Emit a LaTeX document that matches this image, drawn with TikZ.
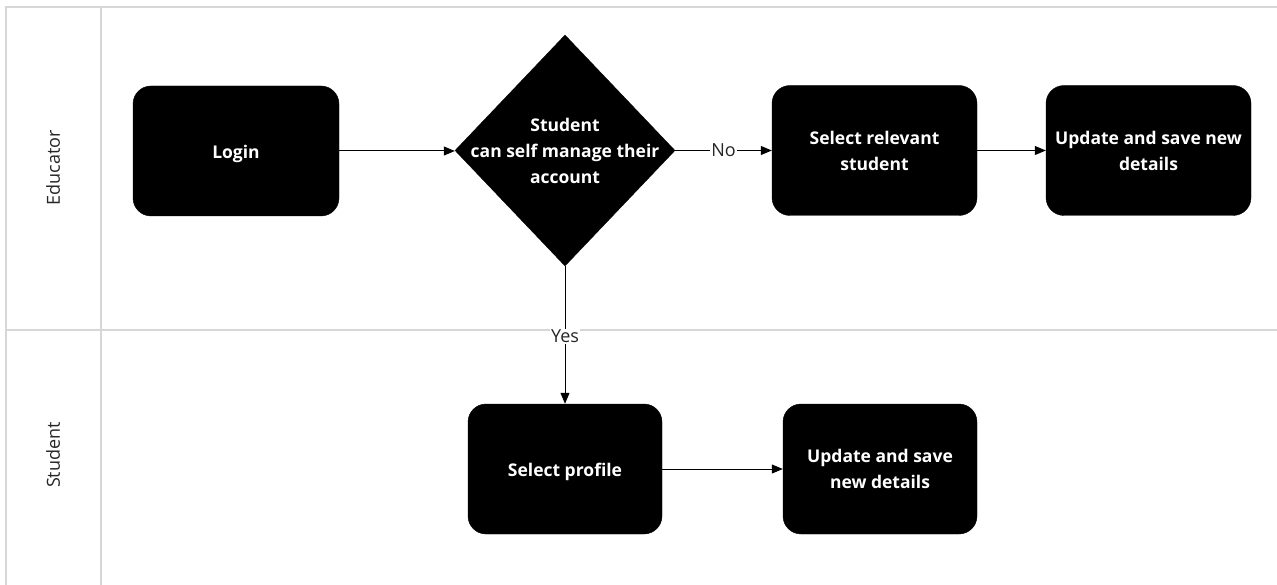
\documentclass[tikz,border=0pt]{standalone}
\usepackage{fontspec}
\setmainfont{Open Sans}
\usetikzlibrary{shapes.geometric,arrows.meta}
\definecolor{lanegray}{RGB}{215,215,215}
\tikzset{
  lane/.style={draw=lanegray,line width=1.5pt},
  boxfont/.style={font=\fontsize{17.5}{26}\selectfont\bfseries},
  procbox/.style={rectangle,rounded corners=18pt,fill=black,draw=black,text=white,
    boxfont,align=center,minimum width=#1,minimum height=130pt,inner sep=2pt},
  decbox/.style={diamond,fill=black,draw=black,aspect=0.95,
    minimum width=220pt,minimum height=231pt,inner sep=0pt},
  dectext/.style={text=white,boxfont,align=center},
  lanelabel/.style={rotate=90,font=\fontsize{18}{22}\selectfont,text=black!85},
  conn/.style={draw=black,line width=1pt,-{Triangle[length=11pt,width=9pt]}},
  edgelabel/.style={fill=white,inner sep=1pt,font=\fontsize{18}{22}\selectfont,text=black!85}
}
\begin{document}
\begin{tikzpicture}[x=1pt,y=-1pt]
\useasboundingbox (0,0) rectangle (1277,585);
% lanes
\draw[lane] (6,585) -- (6,7) -- (1277,7);
\draw[lane] (101,7) -- (101,585);
\draw[lane] (6,330) -- (1277,330);
\node[lanelabel] (laneE) at (53,168) {Educator};
\node[lanelabel] (laneS) at (53,455) {Student};
% nodes
\node[procbox=206pt] (login) at (236,151) {\raisebox{-3pt}[\height][\depth]{Login}};
\node[decbox] (dec) at (565,150.5) {};
\node[dectext] (dectxt) at (dec.center) {Student\\can self manage their\\account};
\node[procbox=205pt] (selrel) at (874.5,150.5) {Select relevant\\student};
\node[procbox=205pt] (upd1) at (1148.5,150.5) {Update and save new\\details};
\node[procbox=194pt] (selprof) at (565,469) {\raisebox{-3pt}[\height][\depth]{Select profile}};
\node[procbox=194pt] (upd2) at (880,469) {Update and save\\new details};
% connectors
\draw[conn] (login.east) -- (login.east -| dec.west);
\draw[conn] (dec.east) -- node[edgelabel] (nolab) {No} (selrel.west);
\draw[conn] (selrel.east) -- (selrel.east -| upd1.west);
\draw[conn] (dec.south) -- node[edgelabel,pos=0.51] (yeslab) {Yes} (selprof.north);
\draw[conn] (selprof.east) -- (selprof.east -| upd2.west);
\end{tikzpicture}
\end{document}
